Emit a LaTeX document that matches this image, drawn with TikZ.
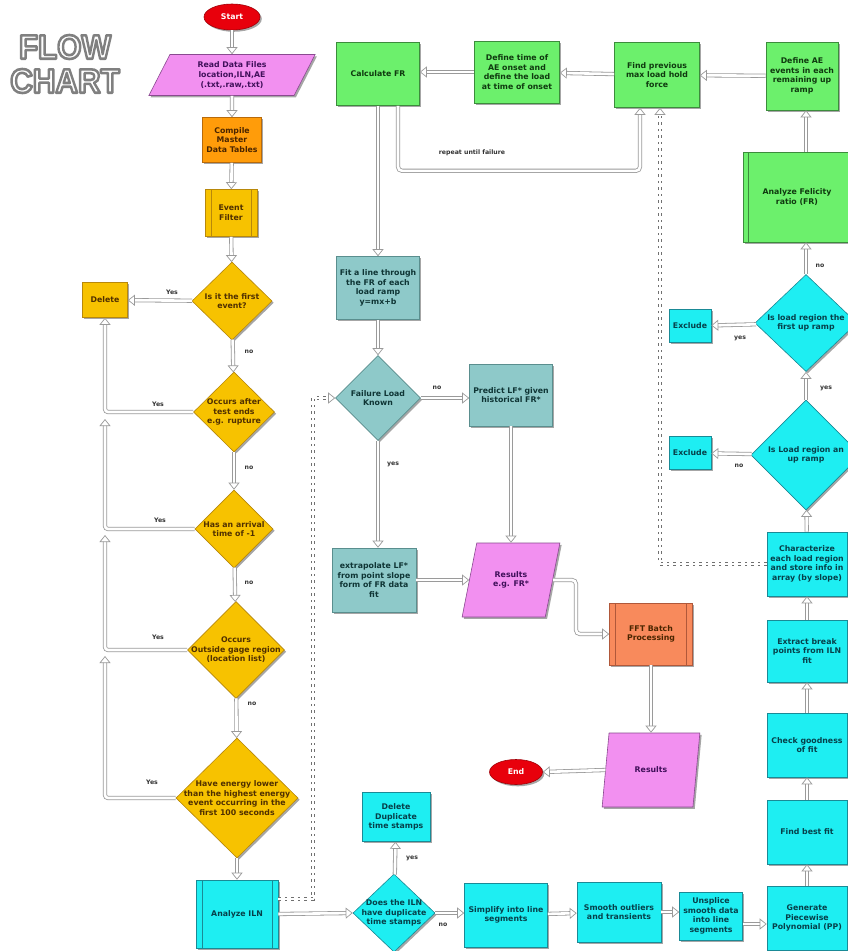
\documentclass[tikz,border=0pt]{standalone}
\usepackage{fontspec}
\setmainfont{DejaVu Sans}
\newfontfamily\flowfont{Liberation Sans}
\usetikzlibrary{shapes.geometric,arrows.meta,shadows,calc}

\definecolor{cgreen}{HTML}{6CF06C}
\definecolor{cgreenb}{HTML}{3C8C3C}
\definecolor{cteal}{HTML}{8EC9C9}
\definecolor{ctealb}{HTML}{5A8E8E}
\definecolor{ccyan}{HTML}{1EEEF2}
\definecolor{ccyanb}{HTML}{1A8A96}
\definecolor{cyel}{HTML}{F7C200}
\definecolor{cyelb}{HTML}{B8880A}
\definecolor{corange}{HTML}{FF9C0A}
\definecolor{corangeb}{HTML}{B86A0A}
\definecolor{csalmon}{HTML}{F88A5C}
\definecolor{csalmonb}{HTML}{B0583A}
\definecolor{cpink}{HTML}{F290F0}
\definecolor{cpinkb}{HTML}{8A4A90}
\definecolor{cred}{HTML}{E8000C}
\definecolor{credb}{HTML}{A00008}
\definecolor{tgreen}{HTML}{0F3A0F}
\definecolor{tteal}{HTML}{0F3535}
\definecolor{tcyan}{HTML}{06404A}
\definecolor{tyel}{HTML}{503000}
\definecolor{tpink}{HTML}{40105A}
\definecolor{tor}{HTML}{4A2500}
\definecolor{lgray}{HTML}{9A9A9A}
\definecolor{dgray}{HTML}{707070}

\newcommand\flowline[2][]{%
  \draw[line width=4.2pt, draw=lgray, shorten >=6pt, #1] #2;
  \draw[line width=2.6pt, draw=white, shorten >=5pt, #1] #2;
  \draw[line width=0.2pt, draw=white, -{Triangle[length=7pt,width=11pt,color=lgray,fill=white,line width=0.7pt]}, #1] #2;}
\newcommand\dotline[1]{%
  \draw[draw=dgray, double=white, double distance=1.8pt, line width=0.8pt, dash pattern=on 2.5pt off 4pt, shorten >=6pt] #1;
  \draw[line width=0.2pt, draw=white, -{Triangle[length=7pt,width=11pt,color=lgray,fill=white,line width=0.7pt]}] #1;}
\newcommand\outlined[1]{\special{pdf:literal direct 0.5 G 2.6 w 1 j 2 Tr}#1\special{pdf:literal direct 0 Tr}}

\tikzset{
  base/.style={draw, line width=0.6pt, align=center, inner sep=1pt,
    font=\bfseries\fontsize{7.8}{9.6}\selectfont,
    drop shadow={shadow xshift=1.8pt, shadow yshift=-1.8pt, opacity=0.35, fill=black}},
  gbox/.style={base, rectangle, fill=cgreen, draw=cgreenb, text=tgreen},
  tbox/.style={base, rectangle, fill=cteal, draw=ctealb, text=tteal},
  cbox/.style={base, rectangle, fill=ccyan, draw=ccyanb, text=tcyan},
  ybox/.style={base, rectangle, fill=cyel, draw=cyelb, text=tyel},
  dia/.style={base, diamond, inner sep=-30pt},
  para/.style={base, trapezium, trapezium left angle=66, trapezium right angle=114,
    trapezium stretches=true, fill=cpink, draw=cpinkb, text=tpink, inner sep=0pt},
  ell/.style={base, ellipse, fill=cred, draw=credb, text=white, inner sep=0pt},
  proc/.style={path picture={
    \draw[#1, line width=0.6pt] ([xshift=6pt]path picture bounding box.north west) -- ([xshift=6pt]path picture bounding box.south west);
    \draw[#1, line width=0.6pt] ([xshift=-6pt]path picture bounding box.north east) -- ([xshift=-6pt]path picture bounding box.south east);}},
  lbl/.style={font=\bfseries\fontsize{6.2}{7}\selectfont, text=black!80, inner sep=0pt},
  flw/.style={font=\flowfont\bfseries\fontsize{34}{34}\selectfont, xscale=0.92, inner sep=0pt, text=white}
}

\begin{document}
\begin{tikzpicture}[x=1pt,y=-1pt]
\useasboundingbox (0,0) rectangle (848,951);
\fill[white] (0,0) rectangle (848,951);

% title
\node[flw] (tflow) at (65,47) {\outlined{FLOW}};
\node[flw] (tchart) at (65,81) {\outlined{CHART}};

% left column
\node[ell, minimum width=56, minimum height=26] (start) at (232,17) {Start};
\node[para, minimum width=167, minimum height=41] (read) at (232,75) {Read Data Files\\location,ILN,AE\\(.txt,.raw,.txt)};
\node[base, rectangle, fill=corange, draw=corangeb, text=tor, minimum width=59, minimum height=45] (cmp) at (232,140) {Compile\\Master\\Data Tables};
\node[ybox, proc=cyelb, minimum width=52, minimum height=47] (evf) at (231,213) {Event\\Filter};
\node[dia, fill=cyel, draw=cyelb, text=tyel, minimum width=80, minimum height=78] (d1) at (232,301) {Is it the first\\event?};
\node[ybox, minimum width=45, minimum height=35] (del) at (105,300) {Delete};
\node[dia, fill=cyel, draw=cyelb, text=tyel, minimum width=81, minimum height=80] (d2) at (234,412) {Occurs after\\test ends\\e.g. rupture};
\node[dia, fill=cyel, draw=cyelb, text=tyel, minimum width=78, minimum height=78] (d3) at (234,529) {Has an arrival\\time of -1};
\node[dia, fill=cyel, draw=cyelb, text=tyel, minimum width=97, minimum height=97] (d4) at (236,650) {Occurs\\Outside gage region\\(location list)};
\node[dia, fill=cyel, draw=cyelb, text=tyel, minimum width=122, minimum height=120] (d5) at (237,798) {Have energy lower\\than the highest energy\\event occurring in the\\first 100 seconds};
\node[cbox, proc=ccyanb, minimum width=82, minimum height=68] (iln) at (237,914) {Analyze ILN};

% bottom row
\node[dia, fill=ccyan, draw=ccyanb, text=tcyan, minimum width=82, minimum height=78] (dup) at (394,913) {Does the ILN\\have duplicate\\time stamps};
\node[cbox, minimum width=68, minimum height=49] (deldup) at (396,817) {Delete\\Duplicate\\time stamps};
\node[cbox, minimum width=83, minimum height=64] (simp) at (506,915) {Simplify into line\\segments};
\node[cbox, minimum width=84, minimum height=60] (smo) at (619,912) {Smooth outliers\\and transients};
\node[cbox, minimum width=63, minimum height=48] (unsp) at (711,916) {Unsplice\\smooth data\\into line\\segments};
\node[cbox, minimum width=80, minimum height=64] (gen) at (807,918) {Generate\\Piecewise\\Polynomial (PP)};

% right column
\node[cbox, minimum width=80, minimum height=64] (best) at (807,832) {Find best fit};
\node[cbox, minimum width=80, minimum height=64] (chk) at (807,745) {Check goodness\\of fit};
\node[cbox, minimum width=80, minimum height=62] (ext) at (807,651) {Extract break\\points from ILN\\fit};
\node[cbox, minimum width=80, minimum height=64] (chz) at (807,564) {Characterize\\each load region\\and store info in\\array (by slope)};
\node[dia, fill=ccyan, draw=ccyanb, text=tcyan, minimum width=110, minimum height=110] (dur) at (806,455) {Is Load region an\\up ramp};
\node[cbox, minimum width=42, minimum height=33] (exc1) at (690,453) {Exclude};
\node[dia, fill=ccyan, draw=ccyanb, text=tcyan, minimum width=102, minimum height=97] (dfr) at (806,323) {Is load region the\\first up ramp};
\node[cbox, minimum width=42, minimum height=33] (exc2) at (690,326) {Exclude};
\node[gbox, minimum width=126, minimum height=90,
  path picture={\draw[cgreenb, line width=0.6pt] ([xshift=5pt]path picture bounding box.north west) -- ([xshift=5pt]path picture bounding box.south west);}]
  (afr) at (806,197) {\hspace*{-18pt}Analyze Felicity\\\hspace*{-18pt}ratio (FR)};

% top row
\node[gbox, minimum width=72, minimum height=68] (dae) at (802,76) {Define AE\\events in each\\remaining up\\ramp};
\node[gbox, minimum width=85, minimum height=65] (fp) at (657,75) {Find previous\\max load hold\\force};
\node[gbox, minimum width=85, minimum height=62] (dto) at (517,72) {Define time of\\AE onset and\\define the load\\at time of onset};
\node[gbox, minimum width=83, minimum height=63] (cfr) at (378,74) {Calculate FR};

% middle
\node[tbox, minimum width=83, minimum height=63] (fit) at (378,288) {Fit a line through\\the FR of each\\load ramp\\y=mx+b};
\node[dia, fill=cteal, draw=ctealb, text=tteal, minimum width=85, minimum height=85] (fail) at (378,398) {Failure Load\\Known};
\node[tbox, minimum width=83, minimum height=62] (pred) at (511,395) {Predict LF* given\\historical FR*};
\node[tbox, minimum width=84, minimum height=64] (extra) at (374,580) {extrapolate LF*\\from point slope\\form of FR data\\fit};
\node[para, minimum width=98, minimum height=74] (res1) at (511,580) {Results\\e.g. FR*};
\node[base, rectangle, fill=csalmon, draw=csalmonb, text=tor, proc=csalmonb, minimum width=83, minimum height=62] (fft) at (651,634) {FFT Batch\\Processing};
\node[para, minimum width=98, minimum height=74] (res2) at (651,770) {Results};
\node[ell, minimum width=53, minimum height=25] (end) at (516,772) {End};

% coordinates
\coordinate (j2) at (105,419);
\coordinate (j3) at (105,535);
\coordinate (j4) at (105,656);
\coordinate (dc1) at (313,398);
\coordinate (dc2) at (660,564);

% connectors left column
\flowline{(start) -- (read)}
\flowline{(read) -- (cmp)}
\flowline{(cmp) -- (evf)}
\flowline{(evf) -- (d1)}
\flowline{(d1) -- (del)}
\flowline{(d1) -- (d2)}
\flowline[rounded corners=3pt]{(d2.west) -| (del.south)}
\flowline{(d2) -- (d3)}
\flowline[rounded corners=3pt]{(d3.west) -| (j2)}
\flowline{(d3) -- (d4)}
\flowline[rounded corners=3pt]{(d4.west) -| (j3)}
\flowline{(d4) -- (d5)}
\flowline[rounded corners=3pt]{(d5.west) -| (j4)}
\flowline{(d5) -- (iln)}

% bottom row
\flowline{(iln.east) -- (dup.west)}
\flowline{(dup) -- (deldup)}
\flowline{(dup.east) -- (dup.east -| simp.west)}
\flowline{(simp) -- (smo)}
\flowline{(smo.east) -- (smo.east -| unsp.west)}
\flowline{([yshift=-8pt]unsp.east) -- ([yshift=-8pt]unsp.east -| gen.west)}
\flowline{(gen) -- (best)}
\flowline{(best) -- (chk)}
\flowline{(chk) -- (ext)}
\flowline{(ext) -- (chz)}
\flowline{(chz) -- (dur)}
\flowline{(dur) -- (exc1)}
\flowline{(dur) -- (dfr)}
\flowline{(dfr) -- (exc2)}
\flowline{(dfr.north) -- (dfr.north |- afr.south)}
\flowline{(afr.north) -- (afr.north |- dae.south)}
\flowline{(dae) -- (fp)}
\flowline{(fp) -- (dto)}
\flowline{(dto.west) -- (dto.west -| cfr.east)}
\flowline[rounded corners=4pt]{([xshift=20pt]cfr.south) -- ++(0,65) -| ([xshift=-17pt]fp.south)}
\flowline{(cfr) -- (fit)}
\flowline{(fit) -- (fail)}
\flowline{(fail.east) -- (fail.east -| pred.west)}
\flowline{(fail.south) -- (fail.south |- extra.north)}
\flowline{(pred) -- (res1)}
\flowline{(extra.east) -- (extra.east -| res1.west)}
\flowline[rounded corners=4pt]{(res1.east) -- (576,580) |- (fft.west)}
\flowline{(fft) -- (res2)}
\flowline{(res2.west) -- (end.east)}

% dotted connectors
\dotline{([yshift=15pt]iln.east) -| (dc1) -- (fail.west)}
\dotline{(chz.west) -- (dc2) -- ([xshift=3pt]fp.south)}

% labels
\node[lbl] (l1) at (172,292) {Yes};
\node[lbl] (l2) at (249,352) {no};
\node[lbl] (l3) at (158,404) {Yes};
\node[lbl] (l4) at (249,468) {no};
\node[lbl] (l5) at (160,520) {Yes};
\node[lbl] (l6) at (249,583) {no};
\node[lbl] (l7) at (158,637) {Yes};
\node[lbl] (l8) at (252,704) {no};
\node[lbl] (l9) at (152,782) {Yes};
\node[lbl] (l10) at (412,858) {yes};
\node[lbl] (l11) at (443,925) {no};
\node[lbl] (l12) at (739,466) {no};
\node[lbl] (l13) at (826,388) {yes};
\node[lbl] (l14) at (740,338) {yes};
\node[lbl] (l15) at (820,266) {no};
\node[lbl] (l16) at (437,388) {no};
\node[lbl] (l17) at (393,464) {yes};
\node[lbl] (l18) at (472,153) {repeat until failure};
\end{tikzpicture}
\end{document}
